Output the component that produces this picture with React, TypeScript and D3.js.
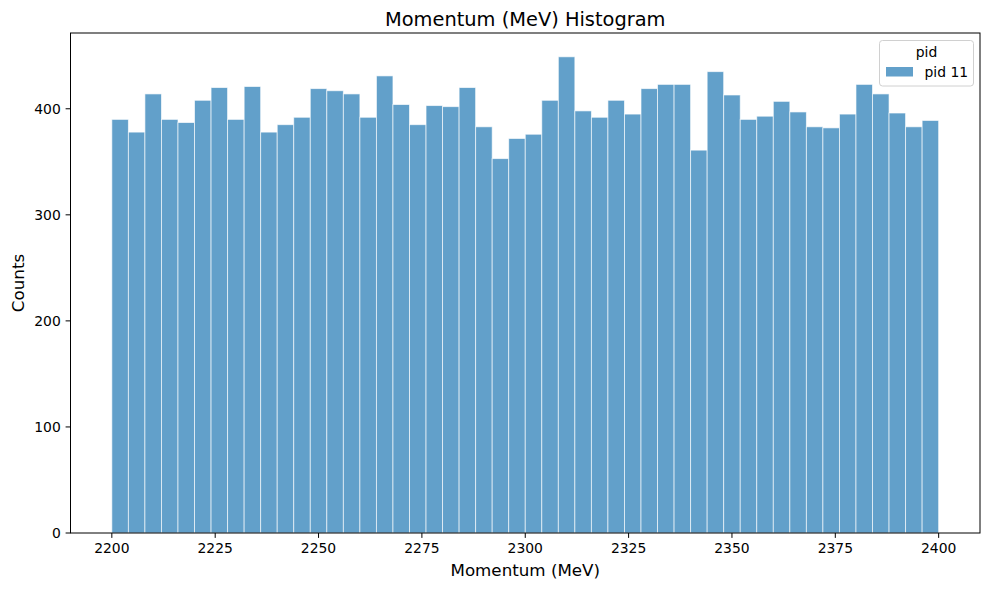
import React from "react";
import * as d3 from "d3";

const binStart = 2200;
const binWidth = 4;
const counts = [
  390, 378, 414, 390, 387, 408, 420, 390, 421, 378,
  385, 392, 419, 417, 414, 392, 431, 404, 385, 403,
  402, 420, 383, 353, 372, 376, 408, 449, 398, 392,
  408, 395, 419, 423, 423, 361, 435, 413, 390, 393,
  407, 397, 383, 382, 395, 423, 414, 396, 383, 389,
];
const xTicks = [2200, 2225, 2250, 2275, 2300, 2325, 2350, 2375, 2400];
const yTicks = [0, 100, 200, 300, 400];
const titleText = "Momentum (MeV) Histogram";
const xLabel = "Momentum (MeV)";
const yLabel = "Counts";
const legendTitle = "pid";
const legendLabels = ["pid 11"];

const W = 989;
const H = 590;
const M = { left: 70.5, right: 980, top: 33, bottom: 533 };
const FONT = "DejaVu Sans, sans-serif";

export default function App() {
  const xMin = binStart;
  const xMax = binStart + binWidth * counts.length;
  const pad = (xMax - xMin) * 0.05;
  const x = d3.scaleLinear().domain([xMin - pad, xMax + pad]).range([M.left, M.right]);
  const yMaxV = (d3.max(counts) as number) * 1.05;
  const y = d3.scaleLinear().domain([0, yMaxV]).range([M.bottom, M.top]);
  const color = "#1f77b4";

  return (
    <svg
      width={W}
      height={H}
      style={{ position: "absolute", left: 0, top: 0, background: "#fff" }}
      fontFamily={FONT}
    >
      <rect x={0} y={0} width={W} height={H} fill="#fff" />
      {counts.map((c, i) => {
        const x0 = x(binStart + i * binWidth);
        const x1 = x(binStart + (i + 1) * binWidth);
        return (
          <rect
            key={i}
            x={x0}
            y={y(c)}
            width={x1 - x0}
            height={y(0) - y(c)}
            fill={color}
            fillOpacity={0.7}
            stroke="#ffffff"
            strokeOpacity={0.7}
            strokeWidth={0.9}
          />
        );
      })}
      <rect
        x={M.left}
        y={M.top}
        width={M.right - M.left}
        height={M.bottom - M.top}
        fill="none"
        stroke="#000"
        strokeWidth={1}
      />
      {xTicks.map((t) => (
        <g key={t}>
          <line x1={x(t)} x2={x(t)} y1={M.bottom} y2={M.bottom + 4.9} stroke="#000" strokeWidth={1} />
          <text x={x(t)} y={M.bottom + 20} textAnchor="middle" fontSize={13.9} fill="#000">
            {t}
          </text>
        </g>
      ))}
      {yTicks.map((t) => (
        <g key={t}>
          <line x1={M.left - 4.9} x2={M.left} y1={y(t)} y2={y(t)} stroke="#000" strokeWidth={1} />
          <text x={M.left - 9.7} y={y(t)} dy="0.35em" textAnchor="end" fontSize={13.9} fill="#000">
            {t}
          </text>
        </g>
      ))}
      <text x={(M.left + M.right) / 2} y={26} textAnchor="middle" fontSize={19.4} fill="#000">
        {titleText}
      </text>
      <text x={(M.left + M.right) / 2} y={576} textAnchor="middle" fontSize={16.7} fill="#000">
        {xLabel}
      </text>
      <text
        transform={`translate(24,${(M.top + M.bottom) / 2}) rotate(-90)`}
        textAnchor="middle"
        fontSize={16.7}
        fill="#000"
      >
        {yLabel}
      </text>
      <g>
        <rect x={879.5} y={40.5} width={94} height={45.5} rx={3} fill="#fff" fillOpacity={0.8} stroke="#d0d0d0" />
        <text x={926.5} y={57} textAnchor="middle" fontSize={13.9} fill="#000">
          {legendTitle}
        </text>
        {legendLabels.map((l, i) => (
          <g key={l}>
            <rect x={886} y={67 + i * 20} width={27} height={9.5} fill={color} fillOpacity={0.7} />
            <text x={924.5} y={76.5 + i * 20} fontSize={13.9} fill="#000">
              {l}
            </text>
          </g>
        ))}
      </g>
    </svg>
  );
}
